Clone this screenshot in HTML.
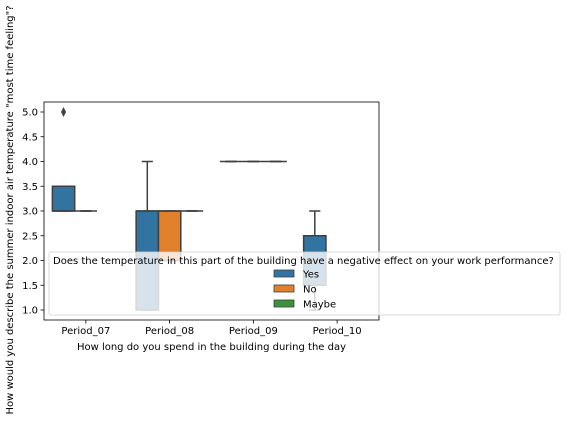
<!DOCTYPE html>
<html><head><meta charset="utf-8"><style>
body{margin:0;background:#fff;width:567px;height:422px;overflow:hidden}
svg{font-family:"DejaVu Sans","Liberation Sans",sans-serif}
</style></head><body>
<svg width="567" height="422" id="chart"></svg>
<script>
const categories=["Period_07","Period_08","Period_09","Period_10"];
const hues=["Yes","No","Maybe"];
const colors=["#3274a1","#e1812c","#3a923a"];
// [category, hue, whiskerLow, q1, median, q3, whiskerHigh]
const boxes=[[0,0,3,3,3,3.5,3.5],[0,1,3,3,3,3,3],[1,0,1,1,3,3,4],[1,1,2,2,3,3,3],[1,2,3,3,3,3,3],
[2,0,4,4,4,4,4],[2,1,4,4,4,4,4],[2,2,4,4,4,4,4],[3,0,1,1.5,2,2.5,3]];
const outliers=[[0,0,5]];
const yTicks=[1,1.5,2,2.5,3,3.5,4,4.5,5];
const NS="http://www.w3.org/2000/svg";
const svg=document.getElementById('chart');
const L=44,R=379,T=102,B=320;
const y=v=>310-(v-1)*49.5;
const step=(R-L)/categories.length;
const xc=i=>L+step*(i+0.5);
const hw=step*0.8/3;
const xh=(c,h)=>xc(c)+(h-1)*hw;
function mk(t,a,p){const e=document.createElementNS(NS,t);for(const k in a)e.setAttribute(k,a[k]);(p||svg).appendChild(e);return e;}
const ed="#3f3f3f";
boxes.forEach(b=>{
 const [c,h,wl,q1,md,q3,wh]=b;const cx=xh(c,h);const g=mk('g',{});
 
 
 mk('line',{x1:cx,x2:cx,y1:y(q3),y2:y(wh),stroke:ed,'stroke-width':1.5},g);
 mk('line',{x1:cx,x2:cx,y1:y(q1),y2:y(wl),stroke:ed,'stroke-width':1.5},g);
 mk('line',{x1:cx-hw/4,x2:cx+hw/4,y1:y(wh),y2:y(wh),stroke:ed,'stroke-width':1.5},g);
 mk('line',{x1:cx-hw/4,x2:cx+hw/4,y1:y(wl),y2:y(wl),stroke:ed,'stroke-width':1.5},g);
 mk('rect',{x:cx-hw/2,y:y(q3),width:hw,height:y(q1)-y(q3),fill:colors[h],stroke:ed,'stroke-width':1.5},g);
 mk('line',{x1:cx-hw/2,x2:cx+hw/2,y1:y(md),y2:y(md),stroke:ed,'stroke-width':1.5},g);
});
outliers.forEach(o=>{const cx=xh(o[0],o[1]);const p=mk('path',{d:`M${cx} ${y(o[2])-5}L${cx+2.5} ${y(o[2])}L${cx} ${y(o[2])+5}L${cx-2.5} ${y(o[2])}Z`,fill:ed});
 });
const fr=mk('rect',{x:L,y:T,width:R-L,height:B-T,fill:'none',stroke:'#000','stroke-width':0.8});

yTicks.forEach(v=>{mk('line',{x1:L-3.5,x2:L,y1:y(v),y2:y(v),stroke:'#000','stroke-width':0.8});
 const t=mk('text',{x:L-6,y:y(v)+3.5,'text-anchor':'end','font-size':10});t.textContent=v.toFixed(1);
 });
categories.forEach((c,i)=>{mk('line',{x1:xc(i),x2:xc(i),y1:B,y2:B+3.5,stroke:'#000','stroke-width':0.8});
 const t=mk('text',{x:xc(i),y:B+14,'text-anchor':'middle','font-size':10});t.textContent=c;
 });
let t=mk('text',{x:(L+R)/2,y:B+30,'text-anchor':'middle','font-size':10});t.textContent="How long do you spend in the building during the day";

t=mk('text',{x:0,y:0,'text-anchor':'middle','font-size':10,transform:'translate(13,210) rotate(-90)'});
t.textContent='How would you describe the summer indoor air temperature "most time feeling"?';

const lg=mk('g',{});
mk('rect',{x:49,y:252,width:511,height:63,rx:2,fill:'rgba(255,255,255,0.8)',stroke:'#d0d0d0','stroke-width':0.8},lg);
t=mk('text',{x:53,y:264,'font-size':10},lg);t.textContent="Does the temperature in this part of the building have a negative effect on your work performance?";
hues.forEach((h,i)=>{const yy=270+i*15;
 mk('rect',{x:274,y:yy,width:20,height:7,fill:colors[i],stroke:ed,'stroke-width':0.8},lg);
 const tt=mk('text',{x:303,y:yy+7.5,'font-size':10},lg);tt.textContent=h;
 });
</script>
</body></html>
